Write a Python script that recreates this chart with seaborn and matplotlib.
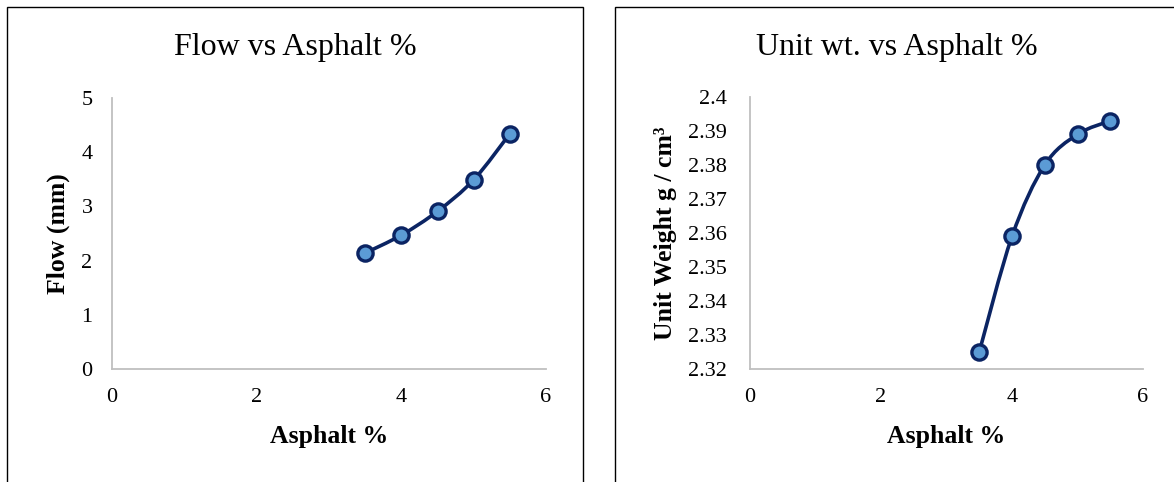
import numpy as np
import pandas as pd
import seaborn as sns
import matplotlib
matplotlib.use("Agg")
import matplotlib.pyplot as plt
from matplotlib.path import Path
from matplotlib.patches import PathPatch, Rectangle

# Marshall test results
asphalt_pct = [3.5, 4.0, 4.5, 5.0, 5.5]
flow_mm = [2.14, 2.47, 2.91, 3.49, 4.34]
unit_weight = [2.325, 2.359, 2.380, 2.389, 2.393]

x_ticks = [0, 2, 4, 6]
flow_ticks = [0, 1, 2, 3, 4, 5]
uw_ticks = [2.32, 2.33, 2.34, 2.35, 2.36, 2.37, 2.38, 2.39, 2.40]
uw_tick_labels = ["2.32", "2.33", "2.34", "2.35", "2.36", "2.37", "2.38", "2.39", "2.4"]

sns.set_style("white")
plt.rcParams["font.family"] = ["Liberation Serif", "DejaVu Serif"]
plt.rcParams["text.color"] = "black"

LINE = "#0b2463"
FILL = "#5b9bd5"
SPINE = "#bfbfbf"

fig = plt.figure(figsize=(11.74, 4.82), dpi=100)

# chart frames
fig.patches.append(Rectangle((7 / 1174, -0.05), 576 / 1174, 1.05 - 7 / 482,
                             transform=fig.transFigure, fill=False,
                             edgecolor="black", linewidth=1.0))
fig.patches.append(Rectangle((615 / 1174, -0.05), 0.5, 1.05 - 7 / 482,
                             transform=fig.transFigure, fill=False,
                             edgecolor="black", linewidth=1.0))


def smooth_path(xs, ys):
    """Cubic Bezier path through the points (Catmull-Rom style smoothing)."""
    pts = np.column_stack([xs, ys]).astype(float)
    ext = np.vstack([pts[0], pts, pts[-1]])
    verts = [pts[0]]
    codes = [Path.MOVETO]
    for i in range(len(pts) - 1):
        p0, p1, p2, p3 = ext[i], ext[i + 1], ext[i + 2], ext[i + 3]
        c1 = p1 + (p2 - p0) / 6.0
        c2 = p2 - (p3 - p1) / 6.0
        verts += [c1, c2, p2]
        codes += [Path.CURVE4] * 3
    return Path(verts, codes)


def draw_panel(ax, ys, title, ylabel, yticks, ylabels, ylim,
               title_x, xlabel_x, ylabel_x, ypad):
    df = pd.DataFrame({"x": asphalt_pct, "y": ys})
    ax.add_patch(PathPatch(smooth_path(df["x"], df["y"]), fill=False,
                           edgecolor=LINE, linewidth=2.6, zorder=2,
                           capstyle="round", joinstyle="round"))
    sns.scatterplot(data=df, x="x", y="y", ax=ax, s=120, color=FILL,
                    edgecolor=LINE, linewidth=2.4, zorder=3)
    ax.set_xlim(0, 6)
    ax.set_ylim(*ylim)
    ax.set_xticks(x_ticks)
    ax.set_yticks(yticks)
    ax.set_yticklabels(ylabels)
    ax.tick_params(axis="both", length=0, labelsize=16, colors="black")
    ax.tick_params(axis="x", pad=14)
    ax.tick_params(axis="y", pad=ypad)
    for side in ["top", "right"]:
        ax.spines[side].set_visible(False)
    for side in ["left", "bottom"]:
        ax.spines[side].set_color(SPINE)
        ax.spines[side].set_linewidth(1.3)
    ax.set_xlabel("")
    ax.set_ylabel("")
    fig.text(title_x, 1 - 47 / 482, title, ha="center", va="center",
             fontsize=23, color="black")
    fig.text(xlabel_x, 1 - 437 / 482, "Asphalt %", ha="center", va="center",
             fontsize=18.5, fontweight="bold", color="black")
    pos = ax.get_position()
    fig.text(ylabel_x, (pos.y0 + pos.y1) / 2, ylabel, ha="center", va="center",
             rotation=90, fontsize=18.5, fontweight="bold", color="black")


ax1 = fig.add_axes([112 / 1174, 1 - 369 / 482, 434 / 1174, 271 / 482])
draw_panel(ax1, flow_mm, "Flow vs Asphalt %", "Flow (mm)",
           flow_ticks, [str(t) for t in flow_ticks], (0, 5),
           295 / 1174, 329 / 1174, 58 / 1174, 14)

ax2 = fig.add_axes([750 / 1174, 1 - 369 / 482, 393 / 1174, 272 / 482])
draw_panel(ax2, unit_weight, "Unit wt. vs Asphalt %", "Unit Weight g / cm³",
           uw_ticks, uw_tick_labels, (2.32, 2.40),
           897 / 1174, 946 / 1174, 665 / 1174, 17)

fig.savefig("out.png", dpi=100)
